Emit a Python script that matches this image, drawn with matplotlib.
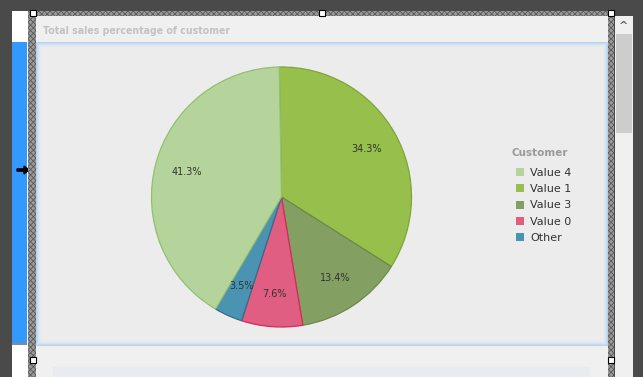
import matplotlib
matplotlib.use("Agg")
import matplotlib.pyplot as plt
from matplotlib.patches import Rectangle, FancyArrow

# --- data ---
slice_labels = ['Value 1', 'Value 3', 'Value 0', 'Other', 'Value 4']
slice_values = [34.3, 13.4, 7.6, 3.5, 41.3]
slice_colors = ['#96c04b', '#849f62', '#e05e82', '#4a93b2', '#b5d49b']
edge_colors = ['#7fa53a', '#6b8a4a', '#d6285a', '#2f6f8f', '#92c070']
legend_order = ['Value 4', 'Value 1', 'Value 3', 'Value 0', 'Other']
title = 'Total sales percentage of customer'
legend_title = 'Customer'

W, H = 643, 377
fig = plt.figure(figsize=(W / 100, H / 100), dpi=100)
fig.patch.set_facecolor('#4a4a4a')

# background "designer" chrome, in pixel coordinates
bg = fig.add_axes([0, 0, 1, 1])
bg.set_xlim(0, W)
bg.set_ylim(H, 0)
bg.axis('off')

def rect(x0, y0, x1, y1, **kw):
    bg.add_patch(Rectangle((x0, y0), x1 - x0, y1 - y0, **kw))

# left strip with blue bar
rect(12, 11, 28, H, facecolor='white', edgecolor='none')
rect(12, 42, 27, 344, facecolor='#3399ff', edgecolor='none')
rect(12, 343, 27, 344.5, facecolor='#8a8a8a', edgecolor='none')
bg.add_patch(FancyArrow(17, 170, 7, 0, width=2.2, head_width=8, head_length=5,
                        length_includes_head=False, color='black'))

# hatched frame
plt.rcParams['hatch.linewidth'] = 0.6
for x0, y0, x1, y1 in [(28, 11, 614, 16), (28, 11, 36, H), (608, 11, 614, H)]:
    rect(x0, y0, x1, y1, facecolor='#9a9a9a', edgecolor='#5a5a5a', hatch='xxxxxx', lw=0)

# inner panels
rect(36, 16, 608, H, facecolor='#f0f0f0', edgecolor='none')
glow = ['#b8d2ef', '#c6dbf2', '#d4e3f1', '#dfe8ef', '#e6eaee']
for i, c in enumerate(glow):
    rect(36 + i, 42 + i, 608 - i, 346 - i, facecolor=c, edgecolor='none')
rect(41, 47, 603, 341, facecolor='#ececec', edgecolor='none')
rect(53, 367, 590, H, facecolor='#e8ecf0', edgecolor='none')

# scrollbar
rect(615, 16, 633, H, facecolor='#f0f0f0', edgecolor='none')
rect(616, 34, 632, 133, facecolor='#cdcdcd', edgecolor='none')
bg.text(624, 26, '^', ha='center', va='center', fontsize=8, color='#606060',
        fontweight='bold')

# selection handles
for hx, hy in [(33, 13), (322, 13), (611, 13), (33, 360), (611, 360)]:
    rect(hx - 3, hy - 3, hx + 3, hy + 3, facecolor='white', edgecolor='black', lw=0.8)

bg.text(43, 30.5, title, ha='left', va='center', fontsize=7.6, fontweight='bold',
        fontstretch='condensed', color='#c2c2c2', family='DejaVu Sans')

# --- pie ---
cx, cy, r = 281.5, 197, 130
ax = fig.add_axes([(cx - r) / W, (H - cy - r) / H, 2 * r / W, 2 * r / H])
ax.set_facecolor('none')
wedges, texts, autotexts = ax.pie(
    slice_values, colors=slice_colors, startangle=91, counterclock=False,
    autopct='%1.1f%%', pctdistance=0.75,
    wedgeprops=dict(linewidth=0.9),
    textprops=dict(fontsize=7, color='#333333'))
for w, ec in zip(wedges, edge_colors):
    w.set_edgecolor(ec)
    w.set_clip_on(False)
ax.set_xlim(-1, 1)
ax.set_ylim(-1, 1)
ax.set_aspect('equal')

# legend
bg.text(512, 153.5, legend_title, ha='left', va='center', fontsize=7.5,
        fontweight='bold', color='#9a9a9a')
handle_map = dict(zip(slice_labels, wedges))
handles = [handle_map[k] for k in legend_order]
leg = fig.legend(handles, legend_order,
                 loc='upper left', bbox_to_anchor=(516 / W, 1 - 168 / H),
                 frameon=False, fontsize=8, handlelength=0.75, handleheight=0.75,
                 handletextpad=0.5, labelspacing=0.56, borderpad=0,
                 borderaxespad=0)
for t in leg.get_texts():
    t.set_color('#333333')
for h in leg.legend_handles:
    h.set_edgecolor('none')

fig.savefig('out.png', dpi=100, facecolor=fig.get_facecolor())
